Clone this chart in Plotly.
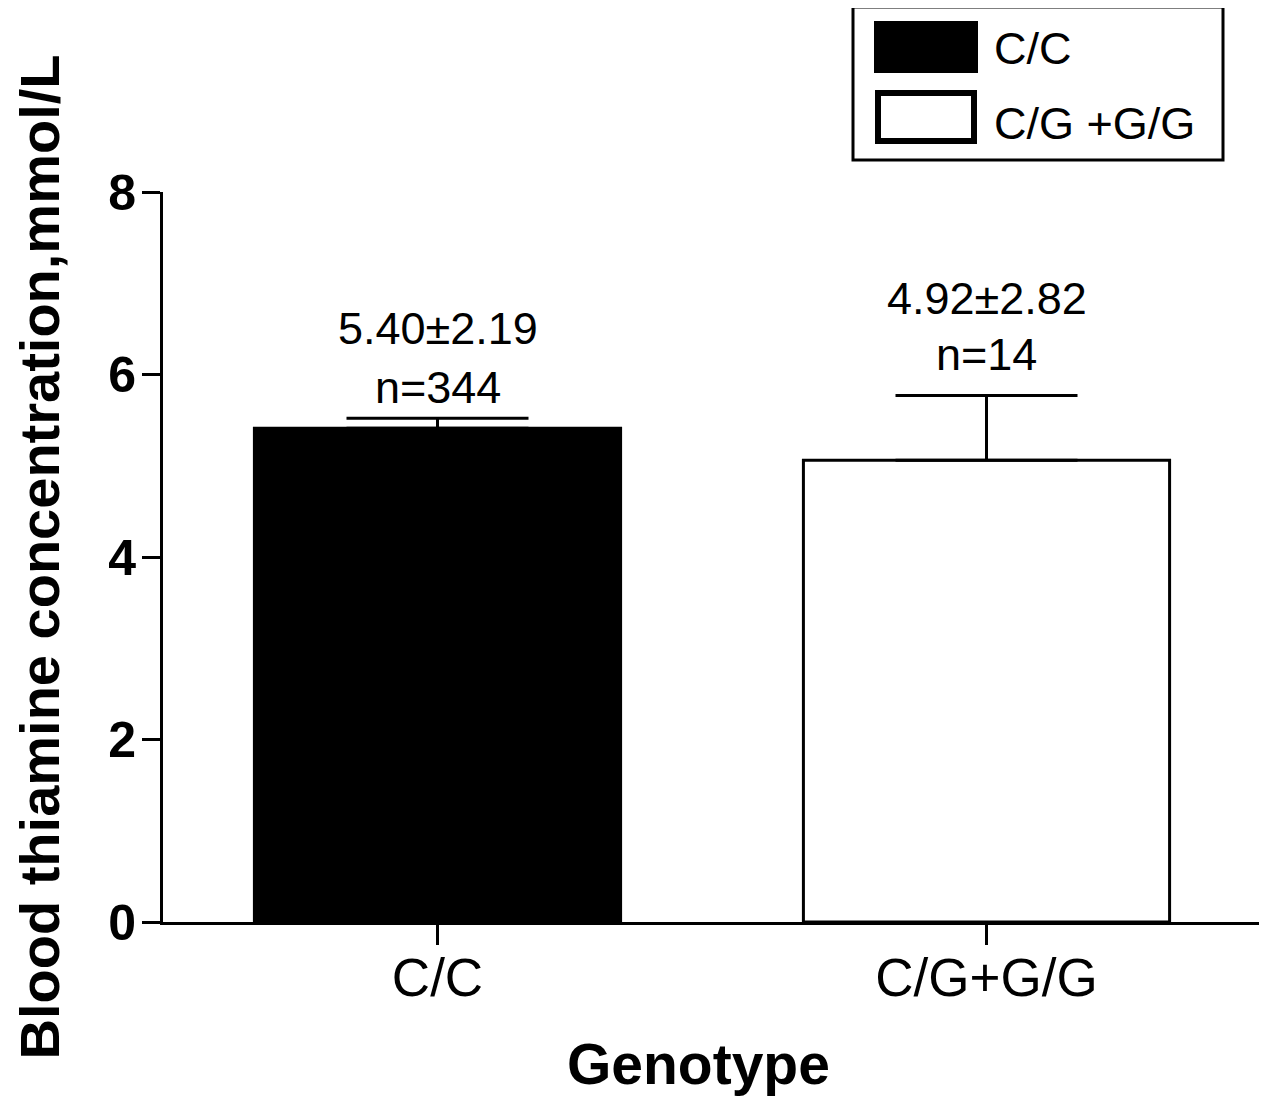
import plotly.graph_objects as go

# ---- data ----
categories = ["C/C", "C/G+G/G"]
bar_values = [5.41, 5.06]          # bar heights
err_plus = [0.11, 0.71]            # upward error bar (SEM)
mean_sd_labels = ["5.40±2.19", "4.92±2.82"]
n_labels = ["n=344", "n=14"]
legend_labels = ["C/C", "C/G +G/G"]
y_ticks = [0, 2, 4, 6, 8]
fill_colors = ["#000000", "#ffffff"]

# ---- layout geometry (pixels, in screenshot coordinates) ----
OFF = 8                      # browser body margin
SW, SH = 1267, 1103          # screenshot size
W, H = SW - OFF, SH - OFF    # figure size
PL, PR, PT, PB = 163, 1261, 192, 922   # plot area in screenshot px
L, T = PL - OFF, PT - OFF
R = W - (PR - OFF)
B = H - (PB - OFF)
PW, PH = PR - PL, PB - PT
FONT = "Liberation Sans, Arial, sans-serif"


def px2x(px):
    return (px - PL) / PW


def py2y(py):
    return (PB - py) / PH


fig = go.Figure()
fig.add_trace(go.Bar(
    x=categories,
    y=bar_values,
    width=0.667,
    marker=dict(color=fill_colors, line=dict(color="black", width=3)),
    error_y=dict(type="data", symmetric=False, array=err_plus,
                 arrayminus=[0] * len(err_plus), color="black",
                 thickness=3, width=91),
    showlegend=False,
))

annotations = []
# value labels tied to each bar's error-bar top
line1_shift = [90, 97]
line2_shift = [31, 41]
for i, c in enumerate(categories):
    top = bar_values[i] + err_plus[i]
    annotations.append(dict(x=c, y=top, xref="x", yref="y", text=mean_sd_labels[i],
                            showarrow=False, yanchor="middle", yshift=line1_shift[i],
                            font=dict(family=FONT, size=45, color="black")))
    annotations.append(dict(x=c, y=top, xref="x", yref="y", text=n_labels[i],
                            showarrow=False, yanchor="middle", yshift=line2_shift[i],
                            font=dict(family=FONT, size=45, color="black")))

# x axis title
annotations.append(dict(x=px2x(698), y=py2y(1064), xref="paper", yref="paper",
                        text="Genotype", showarrow=False,
                        xanchor="center", yanchor="middle",
                        font=dict(family=FONT, size=57, color="black", weight="bold")))

# manual legend
shapes = [
    dict(type="rect", xref="paper", yref="paper", x0=px2x(853), x1=px2x(1223),
         y0=py2y(160), y1=py2y(7), line=dict(color="black", width=3), fillcolor="white"),
    dict(type="rect", xref="paper", yref="paper", x0=px2x(875), x1=px2x(977),
         y0=py2y(72), y1=py2y(22), line=dict(color="black", width=2), fillcolor=fill_colors[0]),
    dict(type="rect", xref="paper", yref="paper", x0=px2x(878), x1=px2x(974),
         y0=py2y(141), y1=py2y(93), line=dict(color="black", width=6), fillcolor=fill_colors[1]),
]
legend_y = [49, 123]
for lab, ly in zip(legend_labels, legend_y):
    annotations.append(dict(x=px2x(992), y=py2y(ly), xref="paper", yref="paper",
                            text=lab, showarrow=False, xanchor="left", yanchor="middle",
                            font=dict(family=FONT, size=45, color="black")))

fig.update_layout(
    width=W, height=H,
    margin=dict(l=L, r=R, t=T, b=B, pad=0),
    paper_bgcolor="white", plot_bgcolor="white",
    font=dict(family=FONT, color="black"),
    annotations=annotations,
    shapes=shapes,
    showlegend=False,
    xaxis=dict(range=[-0.5, 1.5], showline=True, linecolor="black", linewidth=3,
               ticks="outside", ticklen=20, tickwidth=3, tickcolor="black",
               showgrid=False, zeroline=False, ticklabelstandoff=-13,
               tickfont=dict(family=FONT, size=53, color="black")),
    yaxis=dict(range=[0, 8], tickvals=y_ticks, showline=True, linecolor="black",
               linewidth=3, ticks="outside", ticklen=18, tickwidth=3, tickcolor="black",
               showgrid=False, zeroline=False, ticklabelstandoff=-4, automargin=False,
               tickfont=dict(family=FONT, size=50, color="black", weight="bold"),
               title=dict(text="Blood thiamine concentration,mmol/L", standoff=44,
                          font=dict(family=FONT, size=56, color="black", weight="bold"))),
)

fig.write_html("out.html")
